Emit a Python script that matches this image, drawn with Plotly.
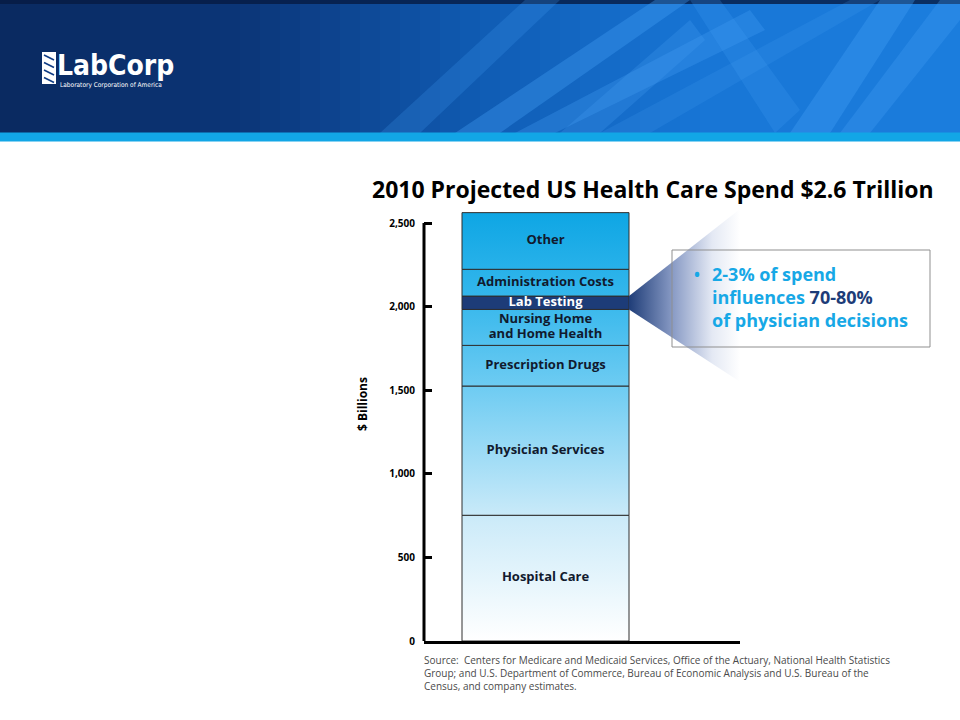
import numpy as np
import plotly.graph_objects as go

W, H = 960, 720


def px(x):
    return x / W


def py(y):
    return 1 - y / H


# ---------------- data ----------------
segments = ["Hospital Care", "Physician Services", "Prescription Drugs",
            "Nursing Home<br>and Home Health", "Lab Testing",
            "Administration Costs", "Other"]
spend = [752, 773, 243, 215, 80, 160, 339]          # $ billions
highlight = "Lab Testing"
tick_vals = [0, 500, 1000, 1500, 2000, 2500]
tick_text = ["0", "500", "1,000", "1,500", "2,000", "2,500"]

title = "2010 Projected US Health Care Spend $2.6 Trillion"
callout_lines = [
    "2-3% of spend",
    "influences <span style='color:#1d3c78'>70-80%</span>",
    "of physician decisions",
]
source_lines = [
    "Source:  Centers for Medicare and Medicaid Services, Office of the Actuary, National Health Statistics",
    "Group; and U.S. Department of Commerce, Bureau of Economic Analysis and U.S. Bureau of the",
    "Census, and company estimates.",
]

# ---------------- styles ----------------
FONT = "Open Sans, Noto Sans, DejaVu Sans, sans-serif"
NARROW = "DejaVu Sans Condensed, Liberation Sans Narrow, sans-serif"
CYAN = "#17a8e6"
NAVY = "#1d3c78"
bar_grad = [[0.0, "#ffffff"], [0.28, "#cdebf9"], [0.6, "#6ccbf2"],
            [0.8, "#35b7ec"], [1.0, "#0ea6e4"]]

tops = np.cumsum(spend)
bottoms = tops - np.array(spend)
total = float(tops[-1])
mids = (tops + bottoms) / 2

# plot geometry (pixels)
plot_l, plot_r, plot_t, plot_b = 424, 740, 206, 641
bar_l, bar_r = 462, 629
px_per_unit = (plot_b - 223) / tick_vals[-1]
bar_px = bar_r - bar_l
x_lo = -0.5 - (bar_l - plot_l) / bar_px
x_hi = 0.5 + (plot_r - bar_r) / bar_px
y_hi = (plot_b - plot_t) / px_per_unit
line_gap = 15 / px_per_unit      # label line spacing in data units

fig = go.Figure()

# stacked segments
for name, b, t in zip(segments, bottoms, tops):
    kw = dict(x=[-0.5, 0.5, 0.5, -0.5, -0.5], y=[b, b, t, t, b],
              mode="lines", fill="toself", name=name.replace("<br>", " "),
              line=dict(color="#2e2e2e", width=1), hoverinfo="skip",
              showlegend=False)
    if name == highlight:
        kw["fillcolor"] = NAVY
    else:
        kw["fillgradient"] = dict(type="vertical", colorscale=bar_grad,
                                  start=0, stop=total)
    fig.add_trace(go.Scatter(**kw))

# callout cone from the highlighted segment
hi_idx = segments.index(highlight)
cone_top, cone_bot = 2584, 1551
fig.add_trace(go.Scatter(
    x=[0.5, x_hi, x_hi, 0.5, 0.5],
    y=[tops[hi_idx], cone_top, cone_bot, bottoms[hi_idx], tops[hi_idx]],
    mode="lines", fill="toself", line=dict(width=0, color="rgba(0,0,0,0)"),
    fillgradient=dict(type="horizontal",
                      colorscale=[[0, "#1f3d78"], [0.4, "#8a9cc6"],
                                  [0.75, "#e4e9f4"], [1, "#ffffff"]],
                      start=0.5, stop=x_hi),
    hoverinfo="skip", showlegend=False))

# segment labels (multi-line labels split into tighter lines)
lab_y, lab_t, lab_c = [], [], []
for name, m in zip(segments, mids):
    parts = name.split("<br>")
    k = len(parts)
    for j, p in enumerate(parts):
        lab_y.append(m + ((k - 1) / 2 - j) * line_gap)
        lab_t.append(p)
        lab_c.append("#ffffff" if name == highlight else "#111a2e")
fig.add_trace(go.Scatter(
    x=[0] * len(lab_y), y=lab_y, text=lab_t, mode="text",
    textposition="middle center",
    textfont=dict(family=FONT, size=13, weight=700, color=lab_c),
    hoverinfo="skip", showlegend=False))

# ---------------- header decoration ----------------
shapes = []
stops_x = [0, 250, 480, 700, 960]
stops_c = [(10, 42, 96), (12, 55, 122), (16, 92, 180), (24, 118, 214), (28, 126, 222)]
n = 48
for i in range(n):
    x0, x1 = i * W / n, (i + 1) * W / n
    xc = (x0 + x1) / 2
    r, g, b = [int(np.interp(xc, stops_x, [c[k] for c in stops_c])) for k in range(3)]
    shapes.append(dict(type="rect", xref="paper", yref="paper",
                       x0=px(x0), x1=px(x1) + 0.001, y0=py(133), y1=1,
                       fillcolor=f"rgb({r},{g},{b})", line=dict(width=0), layer="below"))
shapes.append(dict(type="rect", xref="paper", yref="paper", x0=0, x1=1,
                   y0=py(4), y1=1, fillcolor="rgba(6,26,66,0.8)",
                   line=dict(width=0), layer="below"))

streaks = [
    ([(380, 133), (420, 133), (560, 0), (525, 0)], 0.22),
    ([(455, 133), (500, 133), (690, 0), (655, 0)], 0.35),
    ([(515, 133), (555, 133), (765, 30), (750, 10)], 0.3),
    ([(560, 133), (600, 133), (705, 40), (690, 20)], 0.25),
    ([(690, 0), (720, 0), (800, 110), (775, 133)], 0.22),
    ([(790, 133), (830, 133), (915, 0), (880, 0)], 0.35),
    ([(840, 133), (870, 133), (960, 20), (960, 0), (940, 0)], 0.3),
    ([(600, 133), (650, 133), (880, 0), (850, 0)], 0.18),
]
for pts, a in streaks:
    path = "M " + " L ".join(f"{px(x):.4f},{py(y):.4f}" for x, y in pts) + " Z"
    shapes.append(dict(type="path", xref="paper", yref="paper", path=path,
                       fillcolor=f"rgba(70,160,245,{a})", line=dict(width=0), layer="below"))

# cyan stripe
shapes.append(dict(type="rect", xref="paper", yref="paper", x0=0, x1=1,
                   y0=py(141.5), y1=py(132.5), fillcolor="#12a6e6",
                   line=dict(width=0), layer="below"))

# logo icon
shapes.append(dict(type="rect", xref="paper", yref="paper", x0=px(42), x1=px(56),
                   y0=py(84), y1=py(52), fillcolor="#ffffff", line=dict(width=0),
                   layer="above"))
for k in range(4):
    y0 = 55 + k * 7.5
    shapes.append(dict(type="line", xref="paper", yref="paper",
                       x0=px(44), x1=px(54), y0=py(y0), y1=py(y0 + 5),
                       line=dict(color="#123e86", width=1.6), layer="above"))

# y-axis line (up to the last tick only)
shapes.append(dict(type="line", xref="x domain", yref="y", x0=0, x1=0,
                   y0=0, y1=tick_vals[-1], line=dict(color="#000000", width=3),
                   layer="above"))

# callout box
shapes.append(dict(type="rect", xref="paper", yref="paper", x0=px(672), x1=px(930),
                   y0=py(347), y1=py(250), fillcolor="rgba(0,0,0,0)",
                   line=dict(color="#8f8f8f", width=1), layer="above"))

# ---------------- annotations ----------------
ann = []
ann.append(dict(text="LabCorp", x=px(56), y=py(65), xref="paper", yref="paper",
                xanchor="left", yanchor="middle", showarrow=False, borderpad=0,
                font=dict(family=NARROW, size=28, color="#ffffff", weight=700)))
ann.append(dict(text="Laboratory Corporation of America", x=px(59), y=py(85),
                xref="paper", yref="paper", xanchor="left", yanchor="middle",
                showarrow=False, borderpad=0,
                font=dict(family=NARROW, size=6.5, color="#ffffff")))
ann.append(dict(text=title, x=px(653), y=py(189), xref="paper", yref="paper",
                xanchor="center", yanchor="middle", showarrow=False,
                font=dict(family=FONT, size=23, color="#000000", weight=700)))
ann.append(dict(text="$ Billions", x=px(362), y=py(404), xref="paper", yref="paper",
                xanchor="center", yanchor="middle", showarrow=False, textangle=-90,
                font=dict(family=FONT, size=12, color="#000000", weight=700)))
ann.append(dict(text="•", x=px(697), y=py(274), xref="paper", yref="paper",
                xanchor="center", yanchor="middle", showarrow=False,
                font=dict(family=FONT, size=21, color=CYAN)))
for i, line in enumerate(callout_lines):
    ann.append(dict(text=line, x=px(710), y=py(274 + i * 23), xref="paper", yref="paper",
                    xanchor="left", yanchor="middle", showarrow=False,
                    font=dict(family=FONT, size=18, color=CYAN, weight=700)))
ann.append(dict(text="<br>".join(source_lines), x=px(423), y=py(673),
                xref="paper", yref="paper", xanchor="left", yanchor="middle",
                align="left", showarrow=False, borderpad=0,
                font=dict(family=FONT, size=10, color="#4a4a4a")))

fig.update_layout(
    width=W, height=H, autosize=False,
    margin=dict(l=0, r=0, t=0, b=0, pad=0, autoexpand=False),
    paper_bgcolor="#ffffff", plot_bgcolor="rgba(0,0,0,0)",
    shapes=shapes, annotations=ann, showlegend=False,
    xaxis=dict(domain=[px(plot_l), px(plot_r)], range=[x_lo, x_hi],
               showline=True, linewidth=3, linecolor="#000000", automargin=False,
               showticklabels=False, ticks="", showgrid=False, zeroline=False,
               fixedrange=True),
    yaxis=dict(domain=[py(plot_b), py(plot_t)], range=[0, y_hi], automargin=False,
               tickvals=tick_vals, ticktext=tick_text, ticks="inside",
               ticklen=8, tickwidth=3, tickcolor="#000000", showline=False,
               showgrid=False, zeroline=False, ticklabelstandoff=8,
               tickfont=dict(family=FONT, size=10, color="#000000", weight=700),
               fixedrange=True),
)

fig.write_html(
    "out.html",
    config={"displayModeBar": False, "responsive": False},
    post_script="document.body.style.margin='0px';",
)
